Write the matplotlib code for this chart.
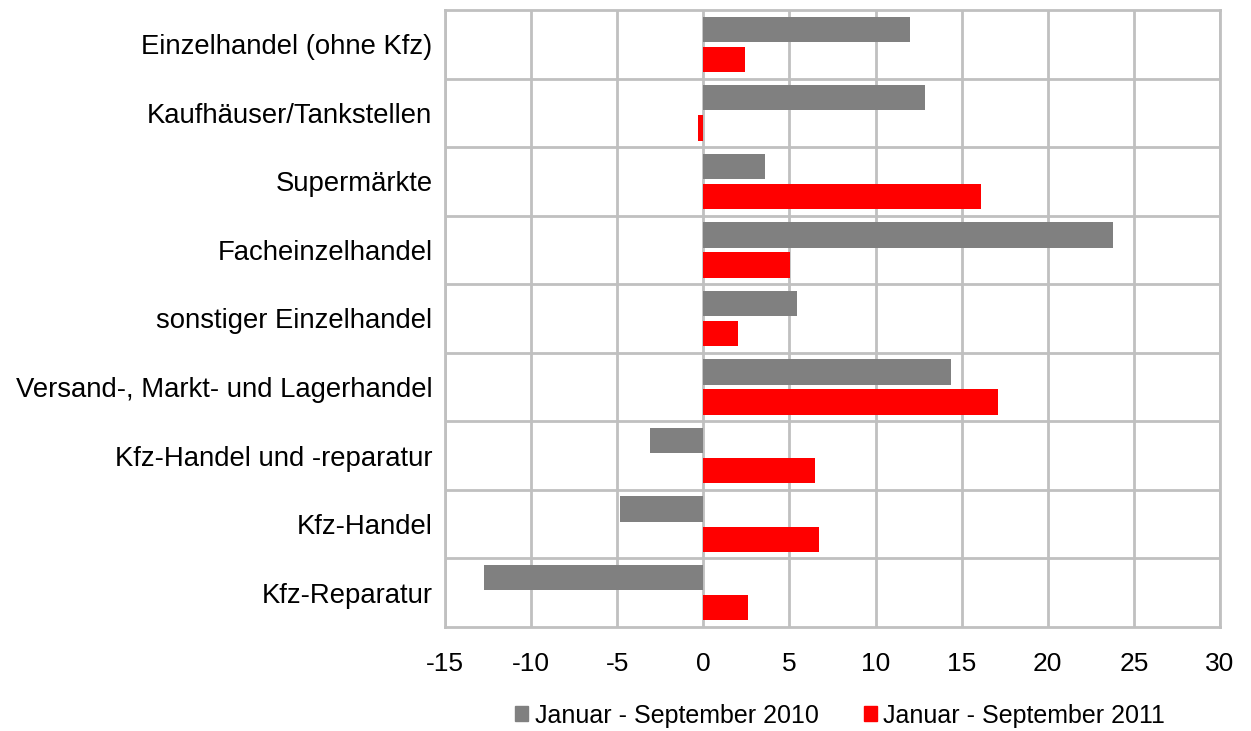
import numpy as np
import matplotlib.pyplot as plt
from matplotlib.patches import Patch

categories = ["Einzelhandel (ohne Kfz)", "Kaufhäuser/Tankstellen", "Supermärkte",
              "Facheinzelhandel", "sonstiger Einzelhandel",
              "Versand-, Markt- und Lagerhandel", "Kfz-Handel und -reparatur",
              "Kfz-Handel", "Kfz-Reparatur"]
series_names = ["Januar - September 2010", "Januar - September 2011"]
values_2010 = [12.0, 12.85, 3.6, 23.8, 5.45, 14.4, -3.1, -4.85, -12.75]
values_2011 = [2.4, -0.3, 16.15, 5.05, 2.0, 17.1, 6.5, 6.7, 2.6]
xticks = [-15, -10, -5, 0, 5, 10, 15, 20, 25, 30]

plt.rcParams['font.family'] = ['Liberation Sans', 'DejaVu Sans']

fig = plt.figure(figsize=(12.51, 7.31), dpi=100)
ax = fig.add_axes([0.3557, 0.1423, 0.6195, 0.844])

y = np.arange(len(categories))
h = 0.37
ax.barh(y - 0.22, values_2010, height=h, color='#808080', zorder=3)
ax.barh(y + 0.22, values_2011, height=h, color='#ff0000', zorder=3)

ax.set_xlim(-15, 30)
ax.set_ylim(len(categories) - 0.5, -0.5)
ax.set_xticks(xticks)
ax.set_xticklabels([str(t) for t in xticks], fontsize=19)
ax.set_yticks(y)
ax.set_yticklabels(categories, fontsize=19.8)
ax.set_yticks(np.arange(len(categories) - 1) + 0.5, minor=True)

ax.grid(axis='x', which='major', color='#c0c0c0', linewidth=2, zorder=0)
ax.grid(axis='y', which='minor', color='#c0c0c0', linewidth=2, zorder=0)
ax.tick_params(which='both', length=0)
ax.tick_params(axis='y', pad=9)
ax.tick_params(axis='x', pad=18)
for s in ax.spines.values():
    s.set_color('#c0c0c0')
    s.set_linewidth(2)

handles = [Patch(color='#808080'), Patch(color='#ff0000')]
leg = fig.legend(handles, series_names, loc='center', bbox_to_anchor=(0.6715, 0.021),
                 ncol=2, frameon=False, handlelength=0.52, handleheight=0.52,
                 handletextpad=0.25, columnspacing=1.8,
                 prop={'size': 18})

fig.savefig('out.png', dpi=100)
